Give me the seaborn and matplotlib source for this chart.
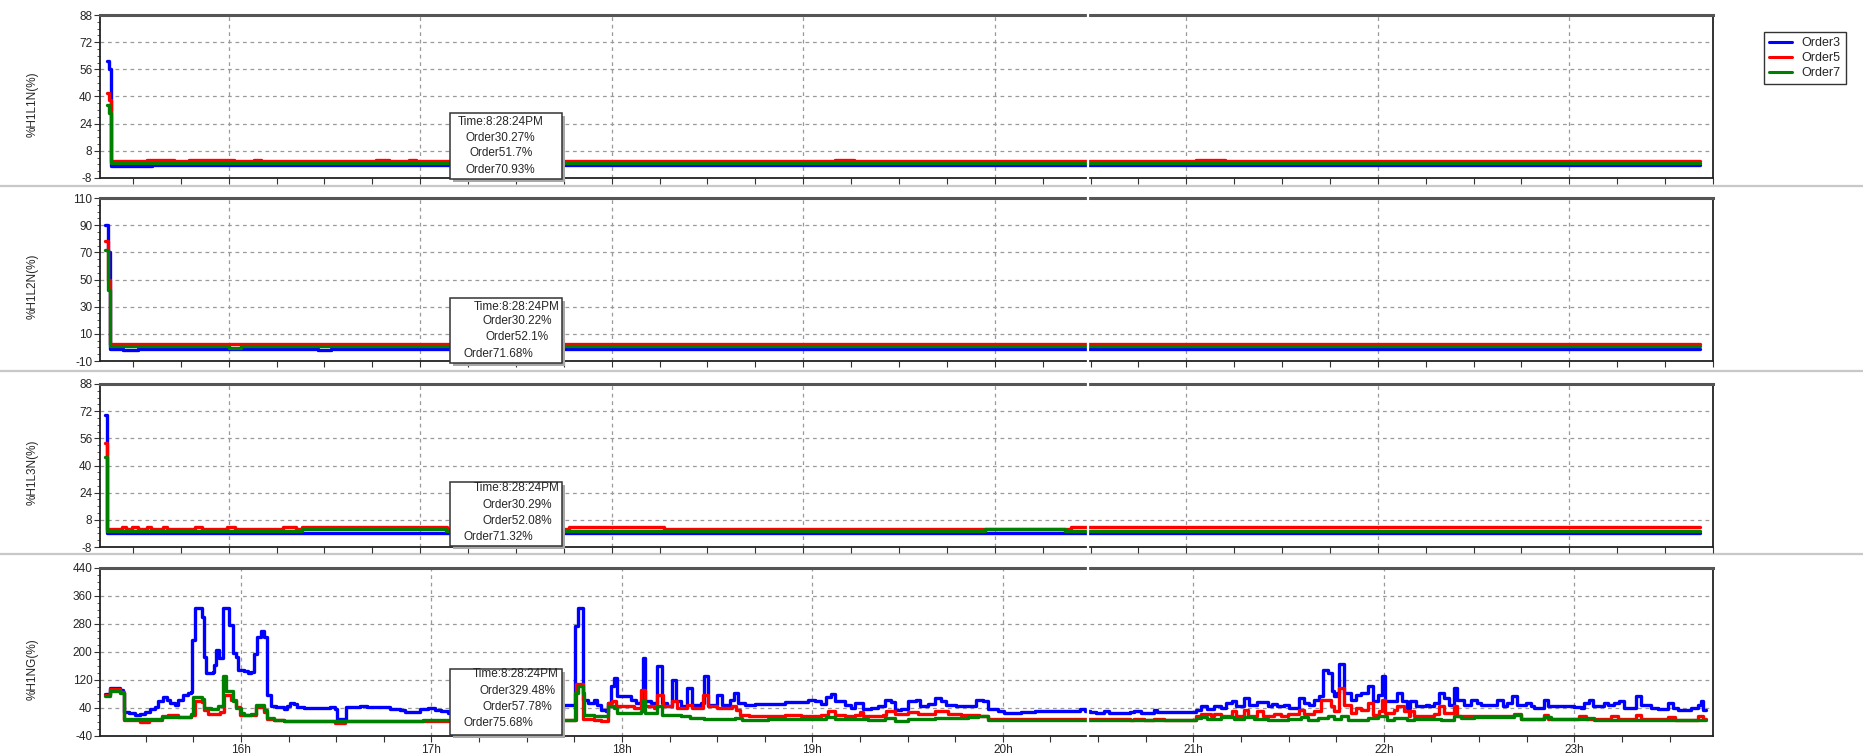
import matplotlib
matplotlib.use('Agg')
import matplotlib.pyplot as plt
import matplotlib.ticker as mticker
from matplotlib.lines import Line2D
from matplotlib.patches import Rectangle
import numpy as np
import pandas as pd
import seaborn as sns

sns.set_theme(style='ticks')
plt.rcParams['font.family'] = ['Liberation Sans', 'DejaVu Sans']
plt.rcParams['axes.unicode_minus'] = False

W, H = 1863, 754

## Data: time in minutes after 15:00, values in %
orders = ['Order3', 'Order5', 'Order7']
palette = {'Order3': '#0000ff', 'Order5': '#ff0000', 'Order7': '#008000'}

# %H1L1N
l1_blue_t = [21.9, 22.6, 23.2, 36.0, 521.0]
l1_blue_v = [61, 56, -0.8, -0.2, -0.2]
l1_red_t = [21.9, 22.6, 23.2, 34.3, 43.0, 47.6, 61.6, 68.0, 70.0, 106.3, 110.3, 116.4, 118.8,
            250.0, 256.0, 363.0, 372.0, 521.0]
l1_red_v = [42, 38, 1.8, 2.8, 1.8, 2.8, 1.8, 2.8, 1.8, 2.8, 1.8, 2.8, 1.8,
            2.8, 1.8, 2.8, 1.8, 1.8]
l1_green_t = [21.9, 22.6, 23.2, 521.0]
l1_green_v = [35, 30, 1.0, 1.0]

# %H1L2N
l2_blue_t = [21.3, 22.1, 22.9, 27.0, 31.5, 88.0, 92.0, 521.0]
l2_blue_v = [90, 70, -1.2, -2.0, -1.2, -2.0, -1.2, -1.2]
l2_red_t = [21.3, 22.1, 22.9, 521.0]
l2_red_v = [78, 50, 2.3, 2.3]
l2_green_t = [21.3, 22.1, 22.9, 60.0, 64.0, 521.0]
l2_green_v = [72, 42, 0.8, -0.3, 0.8, 0.8]

# %H1L3N
l3_blue_t = [21.3, 21.9, 521.0]
l3_blue_v = [70, 0.3, 0.3]
l3_red_t = [21.3, 21.9, 26.5, 27.9, 29.7, 31.5, 34.5, 35.8, 39.3, 40.6, 49.4, 51.8, 59.6, 62.0,
            76.9, 81.1, 82.9, 128.4, 166.6, 196.3, 324.0, 521.0]
l3_red_v = [53, 2.4, 4.0, 2.4, 4.0, 2.4, 4.0, 2.4, 4.0, 2.4, 4.0, 2.4, 4.0, 2.4,
            4.0, 2.4, 4.0, 2.4, 4.0, 2.4, 4.0, 4.0]
l3_green_t = [21.3, 21.9, 83.0, 128.0, 297.0, 322.0, 521.0]
l3_green_v = [45, 1.4, 2.6, 1.4, 2.6, 1.4, 1.4]

# %H1NG
ng_blue_t = [17.3, 18.9, 19.9, 22.0, 22.7, 23.3, 24.6, 26.7, 28.2, 29.8, 31.4, 32.9, 34.0, 35.5,
             36.6, 37.6, 39.2, 40.2, 41.8, 43.3, 44.4, 44.7, 45.4, 47.7, 48.5, 49.1, 51.1, 51.5,
             52.2, 53.0, 54.3, 56.3, 57.4, 58.4, 59.2, 61.0, 62.1, 63.1, 64.2, 65.0, 66.3, 67.3,
             68.3, 69.4, 70.9, 73.5, 74.6, 75.6, 76.7, 77.7, 79.8, 88.1, 89.7, 90.2, 93.0, 97.5,
             99.6, 106.9, 110.0, 111.6, 116.3, 117.9, 119.0, 121.0, 123.1, 125.2, 140.0, 150.0,
             158.0, 161.4, 165.2, 166.1, 167.8, 169.2, 171.3, 172.1, 173.4, 175.0, 175.5, 176.5,
             177.6, 178.4, 180.7, 182.8, 184.4, 186.0, 186.5, 187.3, 189.1, 191.2, 192.6, 194.3,
             195.9, 197.0, 198.5, 200.6, 202.2, 204.8, 205.9, 207.1, 210.1, 211.6, 214.2, 215.3,
             216.6, 218.7, 221.8, 231.3, 238.6, 240.7, 242.8, 244.4, 246.0, 247.0, 250.2, 252.3,
             253.3, 255.9, 258.6, 260.7, 262.8, 264.9, 265.9, 268.0, 270.1, 272.7, 273.8, 276.4,
             278.5, 280.6, 282.2, 285.3, 289.0, 291.6, 293.7, 295.3, 298.4, 300.5, 305.8, 310.0,
             314.2, 319.4, 323.4, 324.4, 326.0, 327.6, 329.2, 331.8, 333.4, 340.2, 341.3, 343.4,
             347.6, 348.6, 360.0, 360.7, 362.3, 364.4, 366.5, 368.6, 370.2, 372.3, 373.4, 376.0,
             377.6, 380.2, 383.4, 384.9, 386.5, 388.6, 390.2, 393.4, 394.9, 396.5, 398.1, 399.7,
             400.7, 402.3, 403.6, 404.4, 405.3, 406.0, 407.6, 409.7, 411.3, 412.8, 414.9, 416.5,
             418.1, 419.5, 420.5, 424.2, 425.8, 427.4, 428.4, 430.0, 433.2, 434.2, 435.8, 437.4,
             438.9, 440.5, 442.1, 443.2, 445.3, 447.4, 449.5, 450.5, 455.8, 457.4, 458.9, 460.5,
             462.1, 464.7, 466.3, 467.4, 470.5, 471.6, 480.0, 482.1, 483.2, 484.7, 485.8, 489.5,
             490.5, 492.6, 494.2, 495.8, 499.5, 501.1, 504.2, 506.3, 509.5, 511.1, 512.6, 516.8,
             518.9, 519.8, 520.5, 521.6]
ng_blue_v = [81, 96, 98, 91, 83, 29, 26, 21, 24, 29, 36, 43, 60, 72,
             64, 55, 48, 62, 77, 83, 86, 234, 325, 301, 187, 139, 144, 164,
             206, 182, 325, 278, 196, 187, 150, 147, 140, 144, 193, 244, 261, 244,
             77, 45, 43, 38, 46, 53, 51, 43, 41, 43, 36, 10, 43, 46,
             43, 38, 34, 29, 36, 37, 40, 35, 31, 26, 20, 25,
             35, 50, 274, 327, 64, 54, 64, 50, 35, 31, 54, 102,
             126, 75, 73, 64, 54, 64, 183, 59, 54, 160, 54, 45,
             121, 59, 45, 97, 50, 54, 131, 50, 78, 50, 64, 83,
             54, 50, 52, 56, 62, 59, 52, 72, 81, 59, 50, 40,
             54, 37, 40, 45, 64, 56, 35, 37, 59, 64, 47, 52,
             69, 59, 50, 47, 45, 64, 59, 37, 31, 26, 28, 31,
             32, 31, 31, 37, 31, 28, 26, 31, 26, 28, 31, 26,
             33, 28, 28, 35, 45, 37, 45, 40, 54, 59, 45, 69,
             50, 56, 45, 52, 45, 50, 40, 69, 54, 50, 64, 73,
             150, 140, 88, 75, 84, 167, 83, 64, 78, 83, 102, 59,
             78, 131, 59, 83, 59, 40, 59, 45, 50, 45, 54, 83,
             69, 50, 97, 64, 50, 64, 54, 50, 64, 45, 54, 73,
             50, 54, 45, 40, 64, 45, 42, 40, 54, 64, 45, 54,
             50, 54, 59, 40, 73, 50, 40, 37, 54, 40, 35, 40,
             50, 59, 35, 33]

ng_red_t = [17.3, 18.9, 22.0, 23.3, 28.2, 30.9, 35.0, 37.1, 40.2, 43.3, 44.4, 45.4, 47.7, 48.5,
            49.6, 51.7, 53.3, 54.7, 56.9, 58.5, 59.6, 64.7, 67.3, 68.3, 70.4, 73.5, 88.6, 89.7,
            92.9, 117.3, 161.4, 165.5, 167.8, 171.3, 173.4, 175.0, 175.5, 177.0, 178.0, 183.8,
            186.0, 187.3, 190.1, 191.2, 192.8, 195.9, 197.5, 200.6, 202.2, 205.4, 207.1, 210.1,
            214.8, 215.8, 217.1, 220.0, 231.3, 236.5, 242.8, 244.9, 247.0, 250.2, 253.3, 254.9,
            255.9, 262.3, 263.3, 266.0, 270.1, 273.3, 278.5, 282.7, 286.9, 292.6, 295.3, 340.2,
            341.3, 344.4, 347.6, 350.8, 360.7, 362.3, 365.5, 366.5, 368.6, 372.3, 373.4, 376.0,
            377.1, 380.2, 381.8, 385.5, 387.6, 389.7, 393.4, 394.9, 398.1, 400.2, 403.3, 404.4,
            406.0, 407.6, 409.7, 411.3, 412.8, 414.9, 416.5, 418.6, 419.5, 420.5, 423.2, 424.2,
            426.3, 427.9, 428.4, 429.5, 432.6, 435.8, 437.4, 438.9, 442.1, 443.2, 448.4, 455.8,
            458.9, 461.1, 463.2, 470.5, 471.6, 481.6, 483.7, 491.6, 493.7, 499.5, 501.1, 509.5,
            511.6, 518.9, 520.5, 521.6]
ng_red_v = [77, 93, 86, 7, 0, 7, 17, 20, 13, 15, 20, 60, 57, 34,
            22, 24, 29, 77, 63, 43, 20, 43, 29, 10, 5, 2, 2, -2,
            2, 4, 5, 110, 10, 7, 4, 2, 54, 59, 45, 40,
            92, 45, 40, 78, 45, 59, 40, 50, 40, 78, 45, 40,
            45, 35, 21, 18, 21, 18, 21, 31, 21, 16, 21, 28,
            16, 21, 31, 24, 28, 24, 31, 24, 21, 18, 8, 6,
            10, 6, 10, 6, 16, 24, 16, 24, 16, 31, 18, 33,
            18, 31, 18, 24, 18, 24, 35, 24, 31, 62, 45, 31,
            97, 50, 26, 40, 35, 54, 21, 31, 64, 26, 35, 45,
            31, 16, 31, 16, 18, 24, 45, 26, 45, 18, 16, 18,
            16, 24, 10, 21, 10, 18, 10, 16, 9, 21, 9, 14,
            6, 16, 10, 9]

ng_green_t = [17.3, 18.9, 22.0, 23.3, 35.0, 37.6, 41.8, 44.4, 45.0, 47.7, 48.5, 50.6, 52.8, 54.3,
              55.4, 57.4, 58.4, 60.0, 61.0, 63.1, 64.7, 66.3, 67.3, 68.3, 70.4, 73.5, 117.3, 161.4,
              165.2, 166.1, 167.6, 168.2, 171.3, 175.5, 177.6, 178.4, 186.0, 186.5, 187.3, 191.2,
              192.6, 198.5, 201.6, 205.9, 215.6, 217.7, 226.0, 244.4, 247.0, 257.5, 262.8, 265.9,
              270.1, 278.5, 289.0, 292.1, 295.3, 360.7, 362.3, 364.4, 368.6, 372.8, 376.0, 379.2,
              383.4, 389.7, 393.9, 396.0, 399.2, 402.3, 404.4, 406.5, 408.6, 414.9, 418.1, 419.5,
              421.1, 423.2, 427.4, 429.5, 437.9, 442.1, 444.2, 448.4, 461.1, 463.2, 470.5, 472.6,
              484.2, 486.3, 521.6]
ng_green_v = [74, 88, 82, 8, 13, 15, 13, 24, 71, 65, 40, 38, 45, 131,
              90, 60, 40, 25, 20, 22, 48, 50, 35, 12, 7, 4, 5, 5,
              83, 102, 83, 21, 16, 45, 40, 26, 31, 64, 26, 45,
              21, 16, 12, 9, 12, 5, 9, 14, 9, 5, 12, 4,
              9, 12, 14, 18, 6, 12, 14, 9, 14, 9, 14, 9,
              5, 9, 14, 6, 12, 16, 9, 16, 6, 12, 16, 16,
              6, 12, 5, 9, 6, 16, 12, 14, 21, 9, 14, 9,
              12, 6, 6]

ylabels = ['%H1L1N(%)', '%H1L2N(%)', '%H1L3N(%)', '%H1NG(%)']
ylims = [(-8, 88), (-10, 110), (-8, 88), (-40, 440)]
ysteps = [16, 20, 16, 80]
hour_ticks = [60, 120, 180, 240, 300, 360, 420, 480]
hour_labels = ['16h', '17h', '18h', '19h', '20h', '21h', '22h', '23h']

tips = [
    ['Time:8:28:24PM', 'Order30.27%', 'Order51.7%', 'Order70.93%'],
    ['Time:8:28:24PM', 'Order30.22%', 'Order52.1%', 'Order71.68%'],
    ['Time:8:28:24PM', 'Order30.29%', 'Order52.08%', 'Order71.32%'],
    ['Time:8:28:24PM', 'Order329.48%', 'Order57.78%', 'Order75.68%'],
]


def frame(bt, bv, rt, rv, gt, gv):
    parts = [pd.DataFrame({'t': bt, 'v': bv, 'order': 'Order3'}),
             pd.DataFrame({'t': rt, 'v': rv, 'order': 'Order5'}),
             pd.DataFrame({'t': gt, 'v': gv, 'order': 'Order7'})]
    return pd.concat(parts, ignore_index=True)


data = [frame(l1_blue_t, l1_blue_v, l1_red_t, l1_red_v, l1_green_t, l1_green_v),
        frame(l2_blue_t, l2_blue_v, l2_red_t, l2_red_v, l2_green_t, l2_green_v),
        frame(l3_blue_t, l3_blue_v, l3_red_t, l3_red_v, l3_green_t, l3_green_v),
        frame(ng_blue_t, ng_blue_v, ng_red_t, ng_red_v, ng_green_t, ng_green_v)]

# panel boxes in pixels: top, bottom
boxes = [(15, 178), (198, 361), (384, 547), (568, 736)]
left_px, right_px = 100, 1713
xlims = [(19.7, 525.0), (19.7, 525.0), (19.7, 525.0), (15.6, 523.7)]
label_y = [0.45, 0.456, 0.46, 0.40]

fig = plt.figure(figsize=(W / 100, H / 100), dpi=100)

# separator lines between panels
for yy in [186, 371, 554]:
    fig.add_artist(Line2D([0, 1], [1 - yy / H] * 2, color='#c8c8c8', lw=1.6,
                          transform=fig.transFigure, zorder=0))

axes = []
for i in range(4):
    top, bot = boxes[i]
    ax = fig.add_axes([left_px / W, 1 - bot / H, (right_px - left_px) / W, (bot - top) / H])
    axes.append(ax)
    sns.lineplot(data=data[i], x='t', y='v', hue='order', hue_order=orders, palette=palette,
                 estimator=None, sort=False, drawstyle='steps-post', linewidth=2.4,
                 legend=False, ax=ax)
    ax.set_xlim(*xlims[i])
    lo, hi = ylims[i]
    ax.set_ylim(lo, hi)
    ax.set_yticks(np.arange(lo, hi + 1, ysteps[i]))
    ax.yaxis.set_minor_locator(mticker.AutoMinorLocator(4))
    ax.set_xticks(hour_ticks)
    ax.xaxis.set_minor_locator(mticker.MultipleLocator(15))
    if i == 3:
        ax.set_xticklabels(hour_labels)
    else:
        ax.set_xticklabels([])
    ax.set_xlabel('')
    ax.set_ylabel(ylabels[i], fontsize=8.5)
    ax.yaxis.set_label_coords(-0.038, label_y[i])
    ax.grid(True, which='major', color='#9a9a9a', linestyle=(0, (3, 3)), linewidth=0.9)
    ax.tick_params(axis='both', which='major', labelsize=8.5, length=4, width=0.8,
                   color='#333333', pad=1.5)
    ax.tick_params(axis='y', which='minor', length=2, width=0.6, color='#333333')
    ax.tick_params(axis='x', which='minor', length=4, width=0.8, color='#333333')
    for side in ['left', 'right', 'bottom']:
        ax.spines[side].set_color('#222222')
        ax.spines[side].set_linewidth(1.3)
    ax.spines['top'].set_color('#555555')
    ax.spines['top'].set_linewidth(2.2)
    ax.set_facecolor('white')

    # white break of the chart at the cursor position
    fig.add_artist(Line2D([1088 / W] * 2, [1 - (bot + 2) / H, 1 - (top - 2) / H],
                          color='white', lw=1.6, transform=fig.transFigure, zorder=20))

    # tooltip box with shadow
    bt, bb = [(113, 179), (298, 363), (482, 546), (669, 735)][i]
    fig.add_artist(Rectangle((453 / W, 1 - (bb + 3) / H), 112 / W, (bb - bt) / H,
                             facecolor='#a8a8a8', edgecolor='none',
                             transform=fig.transFigure, zorder=21))
    fig.add_artist(Rectangle((450 / W, 1 - bb / H), 112 / W, (bb - bt) / H,
                             facecolor='white', edgecolor='#333333', lw=1.1,
                             transform=fig.transFigure, zorder=22))

# tooltip texts: (x, y, ha)
tip_pos = [
    [(501, 122, 'center'), (500, 138, 'center'), (501, 153, 'center'), (500, 170, 'center')],
    [(560, 307, 'right'), (552, 321, 'right'), (549, 337, 'right'), (464, 354, 'left')],
    [(560, 488, 'right'), (552, 505, 'right'), (552, 521, 'right'), (464, 537, 'left')],
    [(559, 674, 'right'), (556, 691, 'right'), (552, 707, 'right'), (464, 723, 'left')],
]
for i in range(4):
    for s, (x, y, ha) in zip(tips[i], tip_pos[i]):
        fig.text(x / W, 1 - y / H, s, ha=ha, va='center', fontsize=8.5, zorder=23)

handles = [Line2D([], [], color=palette[o], lw=2.2) for o in orders]
leg = fig.legend(handles, orders, loc='upper left', bbox_to_anchor=(1764 / W, 1 - 32 / H),
                 frameon=True, fancybox=False, edgecolor='black', fontsize=9,
                 handlelength=1.8, borderpad=0.4, labelspacing=0.25, handletextpad=0.8,
                 borderaxespad=0)
leg.get_frame().set_linewidth(1.0)

fig.savefig('out.png', dpi=100)
